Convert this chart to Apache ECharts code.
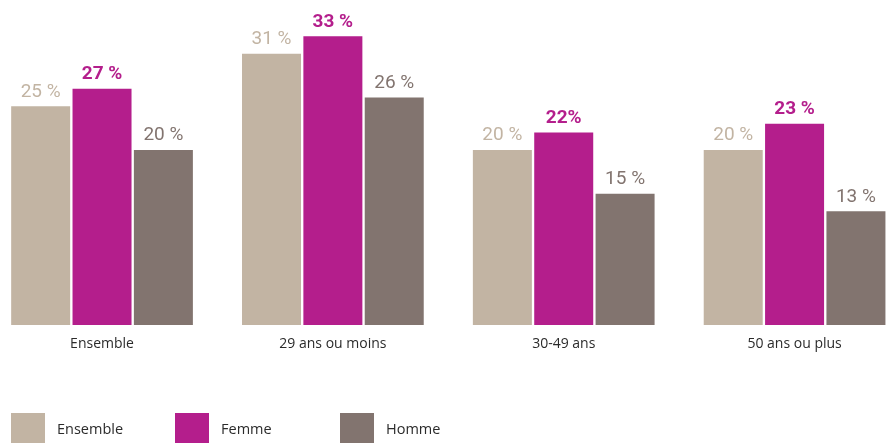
<!DOCTYPE html>
<html><head><meta charset="utf-8">
<script src="https://cdn.jsdelivr.net/npm/echarts@6/dist/echarts.min.js"></script>
<style>html,body{margin:0;padding:0;background:#fff}#c{width:888px;height:443px}</style>
</head><body><div id="c"></div>
<script>
const categories = ['Ensemble', '29 ans ou moins', '30-49 ans', '50 ans ou plus'];
const seriesNames = ['Ensemble', 'Femme', 'Homme'];
const ensemble = [25, 31, 20, 20];
const femme = [27, 33, 22, 23];
const homme = [20, 26, 15, 13];
const femmeLabels = ['27 %', '33 %', '22%', '23 %'];
const colors = ['#C2B4A3', '#B41E8C', '#82746F'];
const values = [ensemble, femme, homme];

const chart = echarts.init(document.getElementById('c'));
const legendLeft = [11, 175, 340];
chart.setOption({
  animation: false,
  grid: { left: -13.4, right: -22, top: 18.75, bottom: 118, outerBoundsMode: 'none', containLabel: false },
  xAxis: {
    type: 'category', data: categories,
    axisLine: { show: false }, axisTick: { show: false },
    axisLabel: { color: '#2b2b2b', fontFamily: 'Open Sans', fontSize: 14, margin: 12 }
  },
  yAxis: { type: 'value', min: 0, max: 35, show: false, splitLine: { show: false } },
  legend: seriesNames.map((n, i) => ({
    data: [n], left: legendLeft[i], top: 413, icon: 'rect', padding: 0,
    itemWidth: 34, itemHeight: 34, selectedMode: false,
    textStyle: { color: '#2b2b2b', fontFamily: 'Open Sans', fontSize: 14.5, padding: [2, 0, 0, 7] }
  })),
  series: seriesNames.map((n, i) => ({
    name: n, type: 'bar', data: values[i], barWidth: 59, barGap: '4%',
    itemStyle: { color: colors[i] },
    label: {
      show: true, position: 'top', distance: 5,
      formatter: p => i === 1 ? femmeLabels[p.dataIndex] : p.value + ' %',
      color: colors[i], fontFamily: 'Roboto', fontSize: 19,
      fontWeight: i === 1 ? 'bold' : 'normal'
    }
  }))
});
</script></body></html>
